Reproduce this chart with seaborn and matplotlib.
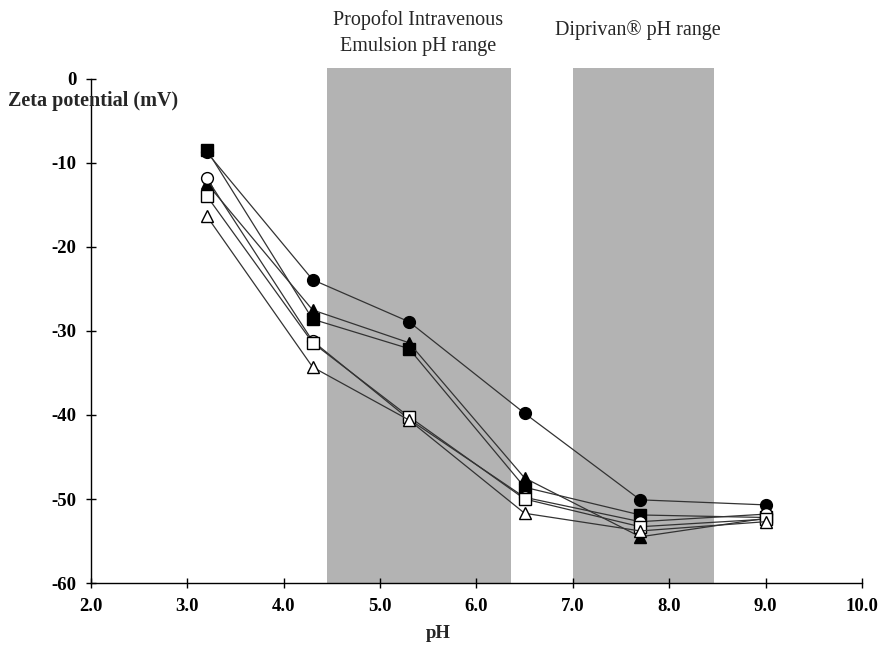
import numpy as np
import pandas as pd
import seaborn as sns
import matplotlib.pyplot as plt

ph = [3.2, 4.3, 5.3, 6.5, 7.7, 9.0]

filled_circle = [-8.7, -23.9, -28.9, -39.8, -50.1, -50.7]
filled_square = [-8.4, -28.6, -32.1, -48.6, -51.9, -52.2]
filled_triangle = [-12.4, -27.5, -31.4, -47.5, -54.5, -52.3]
open_circle = [-11.8, -31.2, -40.5, -49.8, -52.7, -51.8]
open_square = [-13.9, -31.4, -40.2, -50.0, -53.3, -52.4]
open_triangle = [-16.3, -34.3, -40.6, -51.7, -53.8, -52.7]

shade_ranges = [(4.45, 6.36), (7.0, 8.47)]
shade_labels = ["Propofol Intravenous\nEmulsion pH range", "Diprivan\u00ae pH range"]

series = [
    (filled_circle, "o", "black"),
    (filled_square, "s", "black"),
    (filled_triangle, "^", "black"),
    (open_circle, "o", "white"),
    (open_square, "s", "white"),
    (open_triangle, "^", "white"),
]

sns.set_style("white")
plt.rcParams["font.family"] = ["Liberation Serif", "DejaVu Serif"]
plt.rcParams["axes.unicode_minus"] = False

fig = plt.figure(figsize=(8.8, 6.46), dpi=100)
ax = fig.add_axes([0.1034, 0.0975, 0.876, 0.7972])

for lo, hi in shade_ranges:
    ax.axvspan(lo, hi, color="#b3b3b3", lw=0, zorder=0)

for vals, mk, face in series:
    df = pd.DataFrame({"pH": ph, "zeta": vals})
    sns.lineplot(data=df, x="pH", y="zeta", ax=ax, color="#333333", lw=0.9,
                 marker=mk, markersize=8.5, markerfacecolor=face,
                 markeredgecolor="black", markeredgewidth=1.0, zorder=3)

ax.set_xlim(2.0, 10.0)
ax.set_ylim(-60, 1.3)
ax.set_xticks(np.arange(2, 10.5, 1.0))
ax.set_xticklabels([f"{v:.1f}" for v in np.arange(2, 10.5, 1.0)])
ax.set_yticks(np.arange(-60, 1, 10))
ax.spines["left"].set_bounds(-60, 0)
ax.spines["top"].set_visible(False)
ax.spines["right"].set_visible(False)
for s in ["left", "bottom"]:
    ax.spines[s].set_color("black")
    ax.spines[s].set_linewidth(1.0)
ax.tick_params(direction="inout", length=7, width=1, colors="black",
               labelsize=13.5, pad=7, left=True, bottom=True)
for lab in ax.get_xticklabels() + ax.get_yticklabels():
    lab.set_fontweight("bold")

ax.set_xlabel("")
ax.set_ylabel("")
fig.text(438 / 880, 1 - 633 / 646, "pH", fontsize=13.5, fontweight="bold",
         ha="center", va="center")
fig.text(0.009, 1 - 101 / 646, "Zeta potential (mV)", fontsize=14.5,
         fontweight="bold", ha="left", va="center")

fig.text(418 / 880, 1 - 33 / 646, shade_labels[0], fontsize=14.5,
         ha="center", va="center", linespacing=1.5)
fig.text(638 / 880, 1 - 30 / 646, shade_labels[1], fontsize=14.5,
         ha="center", va="center")

fig.savefig("out.png", dpi=100)
